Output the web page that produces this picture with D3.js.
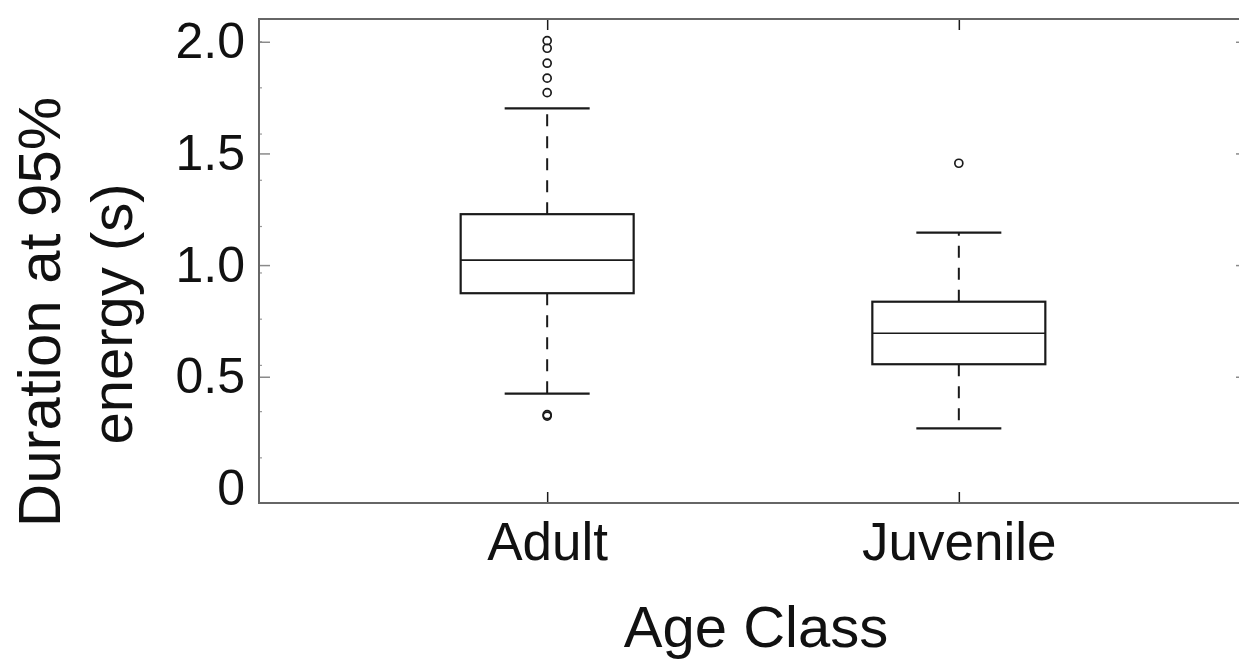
<!DOCTYPE html>
<html>
<head>
<meta charset="utf-8">
<script src="https://d3js.org/d3.v7.min.js"></script>
<style>
  body { margin: 0; background: #fff; }
  text { font-family: "Liberation Sans", Arial, Helvetica, sans-serif; fill: #111; }
</style>
</head>
<body>
<div id="graph"></div>
<script>

// data
var groups = ["Adult", "Juvenile"];
var lowerWhisker = [0.424, 0.269];
var q1 = [0.874, 0.556];
var median = [1.022, 0.695];
var q3 = [1.228, 0.836];
var upperWhisker = [1.702, 1.145];
var outliersAdult = [2.005, 1.971, 1.904, 1.837, 1.772, 0.324, 0.330];
var outliersJuvenile = [1.456];

var yMajorTicks = [0, 0.5, 1.0, 1.5, 2.0];
var yTickLabels = ["0", "0.5", "1.0", "1.5", "2.0"];
var yMinorTicks = [2.003, 1.796, 1.589, 1.382, 1.175, 0.967, 0.760, 0.553, 0.346, 0.139];

// plot frame (window.top is reserved, so keep these in an object)
var W = 1239, H = 659;
var plot = {left: 259, right: 1247, top: 19, bottom: 503};

var svg = d3.select("#graph")
  .append("svg")
    .attr("width", W)
    .attr("height", H);

var x = d3.scalePoint()
  .domain(groups)
  .range([plot.left, plot.right])
  .padding(0.7);

var y = d3.scaleLinear()
  .domain([-0.0654, 2.102])
  .range([plot.bottom, plot.top]);

var boxW = 173, capW = 85;
var ink = "#1a1a1a", frame = "#666";

// left axis: major ticks + labels
var yAxis = svg.append("g")
  .attr("transform", "translate(" + plot.left + ",0)")
  .call(d3.axisLeft(y)
    .tickValues(yMajorTicks)
    .tickFormat(function(d, i) { return yTickLabels[i]; })
    .tickSize(-11)
    .tickPadding(14));
yAxis.select(".domain").remove();
yAxis.selectAll("line").attr("stroke", "#8a8a8a").attr("stroke-width", 1.5)
  .filter(function(d) { return d === 0; }).remove();
yAxis.selectAll("text")
  .attr("font-size", 50)
  .attr("fill", "#111")
  .style("font-family", "'Liberation Sans', Arial, sans-serif");

// left minor ticks
svg.append("g")
  .attr("transform", "translate(" + plot.left + ",0)")
  .call(d3.axisLeft(y).tickValues(yMinorTicks).tickSize(-3).tickFormat(""))
  .call(function(g) { g.select(".domain").remove(); })
  .selectAll("line").attr("stroke", "#999").attr("stroke-width", 1.2);

// right axis: major ticks only
svg.append("g")
  .attr("transform", "translate(" + plot.right + ",0)")
  .call(d3.axisRight(y).tickValues(yMajorTicks.filter(function(d) { return d > 0; })).tickSize(-11).tickFormat(""))
  .call(function(g) { g.select(".domain").remove(); })
  .selectAll("line").attr("stroke", "#8a8a8a").attr("stroke-width", 1.5);

// bottom axis: category ticks + labels
var xAxis = svg.append("g")
  .attr("transform", "translate(0," + plot.bottom + ")")
  .call(d3.axisBottom(x).tickSize(-11).tickPadding(57));
xAxis.select(".domain").remove();
xAxis.selectAll("line").attr("stroke", ink).attr("stroke-width", 1.5);
xAxis.selectAll("text")
  .attr("font-size", 53)
  .attr("dy", 0)
  .attr("fill", "#111")
  .style("font-family", "'Liberation Sans', Arial, sans-serif");

// top ticks
svg.append("g")
  .attr("transform", "translate(0," + plot.top + ")")
  .call(d3.axisTop(x).tickSize(-11).tickFormat(""))
  .call(function(g) { g.select(".domain").remove(); })
  .selectAll("line").attr("stroke", ink).attr("stroke-width", 1.5);

// frame
svg.append("rect")
  .attr("x", plot.left)
  .attr("y", plot.top)
  .attr("width", plot.right - plot.left)
  .attr("height", plot.bottom - plot.top)
  .attr("fill", "none")
  .attr("stroke", frame)
  .attr("stroke-width", 2);

// boxes
var g = svg.append("g");
groups.forEach(function(name, i) {
  var cx = x(name);

  // whiskers
  g.append("line")
    .attr("x1", cx).attr("x2", cx)
    .attr("y1", y(q3[i])).attr("y2", y(upperWhisker[i]))
    .attr("stroke", ink).attr("stroke-width", 2)
    .attr("stroke-dasharray", "12,10");
  g.append("line")
    .attr("x1", cx).attr("x2", cx)
    .attr("y1", y(q1[i])).attr("y2", y(lowerWhisker[i]))
    .attr("stroke", ink).attr("stroke-width", 2)
    .attr("stroke-dasharray", "12,10");

  // caps
  [upperWhisker[i], lowerWhisker[i]].forEach(function(v) {
    g.append("line")
      .attr("x1", cx - capW / 2).attr("x2", cx + capW / 2)
      .attr("y1", y(v)).attr("y2", y(v))
      .attr("stroke", ink).attr("stroke-width", 2.2);
  });

  // box
  g.append("rect")
    .attr("x", cx - boxW / 2)
    .attr("y", y(q3[i]))
    .attr("width", boxW)
    .attr("height", y(q1[i]) - y(q3[i]))
    .attr("fill", "#fff")
    .attr("stroke", ink)
    .attr("stroke-width", 2.2);

  // median
  g.append("line")
    .attr("x1", cx - boxW / 2).attr("x2", cx + boxW / 2)
    .attr("y1", y(median[i])).attr("y2", y(median[i]))
    .attr("stroke", ink).attr("stroke-width", 1.6);
});

// outliers
var outliers = [outliersAdult, outliersJuvenile];
groups.forEach(function(name, i) {
  g.selectAll(null)
    .data(outliers[i])
    .enter()
    .append("circle")
      .attr("cx", x(name))
      .attr("cy", function(d) { return y(d); })
      .attr("r", 4)
      .attr("fill", "none")
      .attr("stroke", ink)
      .attr("stroke-width", 1.7);
});

// axis titles
svg.append("text")
  .attr("x", 756)
  .attr("y", 647)
  .attr("text-anchor", "middle")
  .attr("font-size", 58)
  .text("Age Class");

svg.append("text")
  .attr("transform", "translate(60,312) rotate(-90)")
  .attr("text-anchor", "middle")
  .attr("font-size", 60)
  .text("Duration at 95%");

svg.append("text")
  .attr("transform", "translate(132,314) rotate(-90)")
  .attr("text-anchor", "middle")
  .attr("font-size", 58)
  .text("energy (s)");

</script>
</body>
</html>
